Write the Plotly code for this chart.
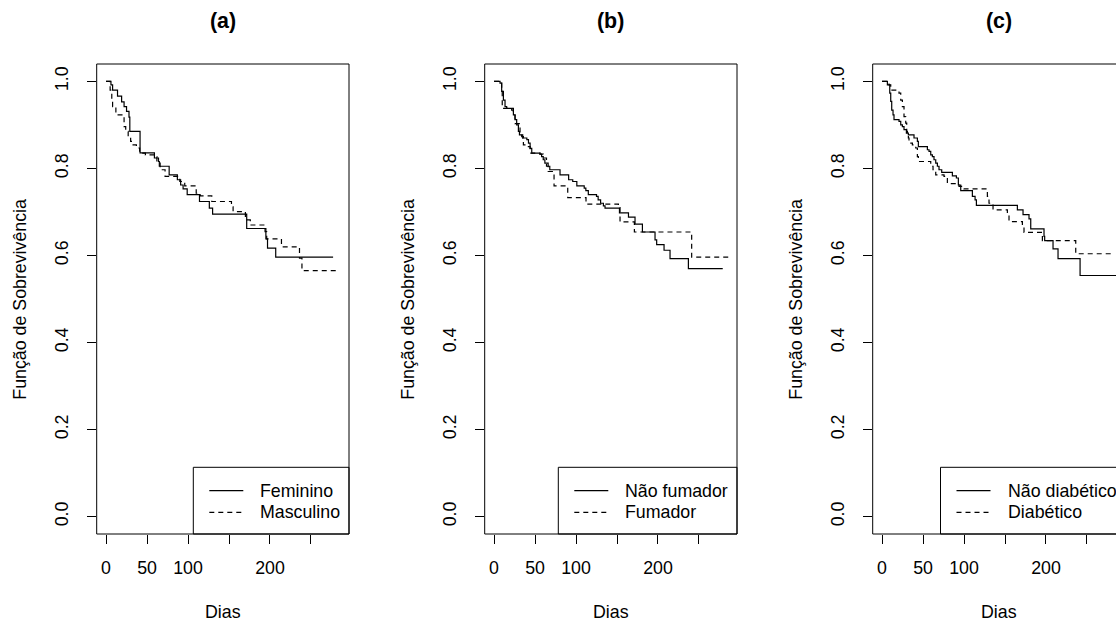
import plotly.graph_objects as go

# ---------------- data ----------------
panel_titles = ["(a)", "(b)", "(c)"]
x_title = "Dias"
y_title = "Função de Sobrevivência"
x_tickvals = [0, 50, 100, 150, 200, 250]
x_ticktext = ["0", "50", "100", "", "200", ""]
y_tickvals = [0.0, 0.2, 0.4, 0.6, 0.8, 1.0]
y_ticktext = ["0.0", "0.2", "0.4", "0.6", "0.8", "1.0"]

# (a) sexo
fem_t = [0, 6, 8, 14, 19, 22, 25, 28, 29, 41.5, 59, 64, 65, 77, 87, 91, 94, 99, 114, 126, 130, 171.6, 195, 197, 207, 277]
fem_s = [1.0, .992, .980, .966, .953, .942, .931, .918, .885, .836, .824, .816, .805, .785, .774, .762, .753, .740, .724, .709, .695, .662, .638, .617, .596, .596]
masc_t = [0, 5, 7, 8, 12, 22, 24, 27, 30, 33, 37, 41, 48, 60, 62, 66, 72, 90, 96, 110, 115, 129, 153, 155, 170, 176, 194, 196, 214, 236, 239, 283]
masc_s = [1.0, .980, .955, .942, .923, .896, .885, .873, .862, .854, .847, .835, .831, .827, .812, .797, .782, .770, .760, .743, .737, .724, .712, .701, .682, .670, .655, .638, .620, .594, .565, .565]

# (b) fumador
nf_t = [0, 7.3, 9.3, 11.4, 13.4, 15.4, 21.5, 23.6, 25.6, 27.6, 29.7, 31, 33.7, 35.8, 40, 42, 44, 46, 56, 58, 60, 62, 66, 68,
        80.5, 91, 96, 101, 110, 112, 115, 125, 127, 130, 133.4, 135.4, 153, 164, 172, 181, 196.4, 198.4, 207.4, 214.7, 237.1, 279]
nf_s = [1.0, .996, .977, .957, .942, .938, .934, .923, .912, .900, .885, .877, .873, .870, .866, .858, .846, .835, .833, .827, .820, .812, .805, .797,
        .785, .774, .770, .760, .755, .749, .740, .736, .728, .720, .714, .709, .698, .688, .672, .654, .636, .625, .612, .593, .570, .570]
fu_t = [0, 7.3, 9.3, 10, 23.6, 25.6, 31.7, 35, 35.8, 40, 44, 56, 60, 64, 66, 73.2, 89.9, 112.2, 151.7, 153.7, 171.2, 241.1, 288]
fu_s = [1.0, .996, .977, .938, .925, .903, .877, .866, .854, .850, .835, .833, .824, .805, .793, .760, .733, .718, .710, .677, .654, .596, .596]

# (c) diabetes
nd_t = [0, 6.5, 9.4, 10.6, 11.8, 13.4, 14.6, 20.7, 22.8, 24.8, 26.8, 29.7, 32.1, 39.0, 43.1, 44.3, 55.3, 57.3, 59.4, 61.4, 63.4, 65.5, 67.5, 69.5, 72.8,
        85.8, 90.7, 93.1, 96.0, 110.2, 113.5, 115.1, 165.1, 172.0, 179.3, 181.4, 197.6, 198.4, 208.6, 214.7, 241.6, 290]
nd_s = [1.0, .992, .973, .954, .934, .923, .912, .908, .900, .896, .889, .881, .877, .870, .862, .850, .843, .839, .831, .827, .820, .812, .805, .797, .791,
        .783, .778, .762, .749, .736, .728, .715, .705, .694, .684, .661, .644, .634, .615, .593, .554, .554]
di_t = [0, 8.5, 10.6, 20.7, 22.8, 24.8, 26.8, 28.9, 30.1, 30.9, 32.1, 32.9, 37.0, 41.1, 43.1, 44.3, 59.4, 62.2, 65.5, 75.6, 79.7, 93.9, 100.0,
        128.5, 130.5, 135.4, 152.9, 154.9, 171.2, 173.2, 195.6, 236.3, 279]
di_s = [1.0, .992, .980, .973, .957, .942, .919, .904, .885, .877, .870, .858, .854, .847, .827, .816, .805, .797, .785, .782, .765, .759, .753,
        .736, .720, .705, .694, .678, .667, .653, .634, .604, .604]

legend_labels = [("Feminino", "Masculino"), ("Não fumador", "Fumador"), ("Não diabético", "Diabético")]
curves = [((fem_t, fem_s), (masc_t, masc_s)), ((nf_t, nf_s), (fu_t, fu_s)), ((nd_t, nd_s), (di_t, di_s))]

# ---------------- layout geometry ----------------
W, H = 1116, 621
FONT = "Liberation Sans, Arial, sans-serif"
FS = 17.8
period = 388
box_left0, box_w = 96.7, 252.3
box_top, box_bot = 64, 534
px_per_day = box_w / 307.8
legend_left_px = [193.3, 558.3, 940.5]

def px2x(px):
    return px / W

def px2y(py):
    return 1 - py / H

fig = go.Figure()
layout = dict(width=W, height=H, margin=dict(l=0, r=0, t=0, b=0),
              paper_bgcolor="white", plot_bgcolor="white", showlegend=False,
              font=dict(family=FONT, size=FS, color="#000"))
shapes, annotations = [], []

for i in range(3):
    L = box_left0 + i * period
    R = min(L + box_w, W)
    xr0 = -11.4
    xr1 = xr0 + (R - L) / px_per_day
    xa = "x" if i == 0 else f"x{i+1}"
    ya = "y" if i == 0 else f"y{i+1}"
    xkey = "xaxis" if i == 0 else f"xaxis{i+1}"
    ykey = "yaxis" if i == 0 else f"yaxis{i+1}"
    layout[xkey] = dict(domain=[px2x(L), px2x(R)], range=[xr0, xr1], anchor=ya,
                        showgrid=False, zeroline=False, showline=False,
                        tickmode="array", tickvals=x_tickvals, ticktext=x_ticktext,
                        ticks="outside", ticklen=9, tickwidth=1, tickcolor="#000",
                        ticklabelstandoff=9,
                        tickfont=dict(family=FONT, size=FS, color="#000"))
    layout[ykey] = dict(domain=[px2y(box_bot), px2y(box_top)], range=[-0.04, 1.04], anchor=xa,
                        showgrid=False, zeroline=False, showline=False,
                        tickmode="array", tickvals=y_tickvals, ticktext=y_ticktext,
                        ticks="outside", ticklen=9, tickwidth=1, tickcolor="#000",
                        tickangle=-90, ticklabelstandoff=12,
                        tickfont=dict(family=FONT, size=FS, color="#000"))
    (t1, s1), (t2, s2) = curves[i]
    fig.add_trace(go.Scatter(x=t1, y=s1, mode="lines", line=dict(color="#000", width=1.2, shape="hv"),
                             xaxis=xa, yaxis=ya, hoverinfo="skip"))
    fig.add_trace(go.Scatter(x=t2, y=s2, mode="lines", line=dict(color="#000", width=1.2, shape="hv", dash="5px,4px"),
                             xaxis=xa, yaxis=ya, hoverinfo="skip"))
    # plot box
    Rb = L + box_w
    shapes.append(dict(type="rect", xref="paper", yref="paper",
                       x0=px2x(L), x1=px2x(Rb) if Rb < W else 1.02,
                       y0=px2y(box_bot), y1=px2y(box_top), line=dict(color="#000", width=1)))
    # legend box
    ll = legend_left_px[i]
    shapes.append(dict(type="rect", xref="paper", yref="paper",
                       x0=px2x(ll), x1=px2x(Rb) if Rb < W else 1.02,
                       y0=px2y(box_bot), y1=px2y(467.3), line=dict(color="#000", width=1)))
    for k, (ry, dash) in enumerate([(490.7, "solid"), (512.3, "5px,4px")]):
        shapes.append(dict(type="line", xref="paper", yref="paper",
                           x0=px2x(ll + 16), x1=px2x(ll + 50), y0=px2y(ry), y1=px2y(ry),
                           line=dict(color="#000", width=1.2, dash=dash)))
        annotations.append(dict(xref="paper", yref="paper", x=px2x(ll + 65), y=px2y(ry),
                                text=legend_labels[i][k], showarrow=False, xanchor="left", yanchor="middle",
                                font=dict(family=FONT, size=FS, color="#000")))
    cx = L + box_w / 2
    annotations.append(dict(xref="paper", yref="paper", x=px2x(cx), y=px2y(21),
                            text="<b>" + panel_titles[i] + "</b>", showarrow=False,
                            xanchor="center", yanchor="middle", font=dict(family=FONT, size=21.4, color="#000")))
    annotations.append(dict(xref="paper", yref="paper", x=px2x(cx), y=px2y(612),
                            text=x_title, showarrow=False, xanchor="center", yanchor="middle",
                            font=dict(family=FONT, size=FS, color="#000")))
    annotations.append(dict(xref="paper", yref="paper", x=px2x(L - 77), y=px2y((box_top + box_bot) / 2),
                            text=y_title, showarrow=False, xanchor="center", yanchor="middle", textangle=-90,
                            font=dict(family=FONT, size=FS, color="#000")))

layout["shapes"] = shapes
layout["annotations"] = annotations
fig.update_layout(**layout)
fig.write_html("out.html", config={"displayModeBar": False, "staticPlot": True},
               post_script="document.body.style.margin='0';document.body.style.overflow='hidden';")
